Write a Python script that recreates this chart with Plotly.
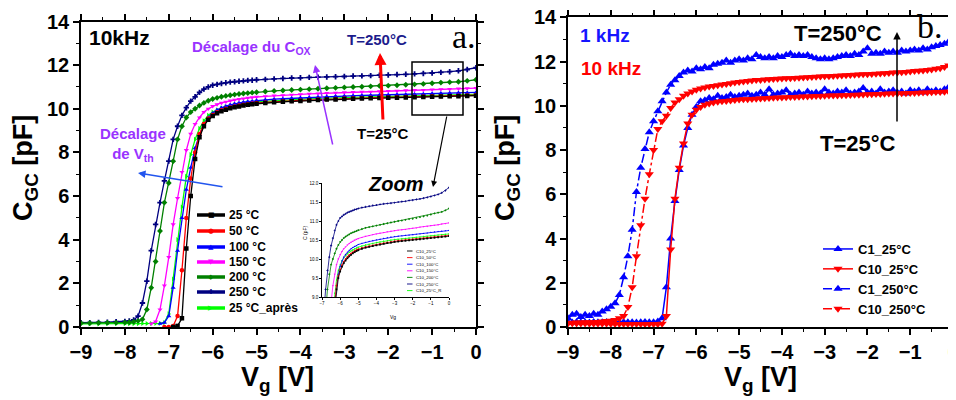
import plotly.graph_objects as go

# ---------------- data : panel a (10 kHz, several temperatures) ----------------
VG_A = [-9.0, -8.8, -8.6, -8.4, -8.2, -8.0,
        -7.9, -7.8, -7.7, -7.6, -7.5, -7.4, -7.3, -7.2, -7.1, -7.0,
        -6.9, -6.8, -6.7, -6.6, -6.5, -6.4, -6.3, -6.2, -6.1, -6.0,
        -5.9, -5.8, -5.7, -5.6, -5.5, -5.4, -5.3, -5.2, -5.1, -5.0,
        -4.8, -4.6, -4.4, -4.2, -4.0, -3.8, -3.6, -3.4, -3.2, -3.0,
        -2.8, -2.6, -2.4, -2.2, -2.0, -1.8, -1.6, -1.4, -1.2, -1.0,
        -0.8, -0.6, -0.4, -0.2, 0.0]

C_25 = [None] * 16 + [
    0.0, 0.05, 0.4, 3.6, 6.0, 7.7, 8.7, 9.2, 9.5, 9.67,
    9.8, 9.89, 9.96, 10.02, 10.07, 10.11, 10.15, 10.18, 10.21, 10.23,
    10.27, 10.3, 10.32, 10.34, 10.36, 10.38, 10.4, 10.42, 10.43, 10.45,
    10.46, 10.47, 10.48, 10.49, 10.5, 10.51, 10.52, 10.53, 10.54, 10.55,
    10.56, 10.57, 10.58, 10.59, 10.6]

C_50 = [None] * 14 + [
    0.0, 0.0,
    0.05, 0.5, 2.6, 5.0, 6.8, 8.0, 8.85, 9.3, 9.55, 9.72,
    9.84, 9.93, 10.0, 10.06, 10.11, 10.15, 10.18, 10.21, 10.24, 10.26,
    10.29, 10.32, 10.34, 10.36, 10.38, 10.4, 10.42, 10.44, 10.45, 10.47,
    10.48, 10.49, 10.5, 10.51, 10.52, 10.53, 10.54, 10.55, 10.56, 10.57,
    10.58, 10.59, 10.6, 10.61, 10.62]

C_100 = [None] * 13 + [
    0.15, 0.2, 0.5,
    1.8, 3.5, 5.0, 6.3, 7.3, 8.2, 8.8, 9.3, 9.6, 9.8,
    9.95, 10.05, 10.12, 10.18, 10.23, 10.27, 10.3, 10.33, 10.35, 10.38,
    10.41, 10.44, 10.46, 10.48, 10.5, 10.52, 10.54, 10.56, 10.58, 10.59,
    10.6, 10.61, 10.62, 10.63, 10.64, 10.65, 10.66, 10.67, 10.68, 10.7,
    10.71, 10.72, 10.73, 10.74, 10.75]

C_150 = [None] * 11 + [
    0.15, 0.25, 0.8, 1.9, 3.2,
    4.7, 5.9, 7.1, 8.1, 8.85, 9.3, 9.6, 9.85, 10.0, 10.12,
    10.2, 10.27, 10.32, 10.37, 10.41, 10.44, 10.47, 10.5, 10.52, 10.54,
    10.57, 10.6, 10.62, 10.64, 10.66, 10.68, 10.7, 10.72, 10.73, 10.75,
    10.76, 10.77, 10.78, 10.8, 10.81, 10.82, 10.84, 10.85, 10.86, 10.88,
    10.89, 10.9, 10.92, 10.93, 10.95]

C_200 = [
    0.18, 0.18, 0.19, 0.2, 0.2, 0.21,
    0.22, 0.24, 0.28, 0.35, 0.8, 1.8, 3.0, 4.4, 5.7, 6.6,
    7.6, 8.6, 9.2, 9.6, 9.85, 10.0, 10.15, 10.27, 10.37, 10.45,
    10.5, 10.55, 10.59, 10.62, 10.65, 10.68, 10.7, 10.72, 10.74, 10.76,
    10.79, 10.82, 10.84, 10.86, 10.88, 10.9, 10.92, 10.94, 10.96, 10.98,
    11.0, 11.01, 11.03, 11.05, 11.06, 11.08, 11.1, 11.12, 11.14, 11.17,
    11.2, 11.22, 11.24, 11.28, 11.33]

C_250 = [
    0.2, 0.2, 0.21, 0.22, 0.24, 0.26,
    0.28, 0.32, 0.5, 1.1, 2.1, 3.5, 4.7, 5.7, 6.7, 7.6,
    8.6, 9.2, 9.7, 10.05, 10.35, 10.55, 10.75, 10.9, 11.0, 11.08,
    11.12, 11.16, 11.19, 11.22, 11.24, 11.26, 11.28, 11.3, 11.31, 11.33,
    11.35, 11.37, 11.39, 11.41, 11.42, 11.44, 11.45, 11.46, 11.47, 11.48,
    11.5, 11.51, 11.52, 11.54, 11.55, 11.57, 11.58, 11.6, 11.62, 11.64,
    11.67, 11.7, 11.74, 11.8, 11.88]

C_25R = [
    0.14, 0.14, 0.14, 0.15, 0.15, 0.15,
    0.15, 0.15, 0.15, 0.16, 0.16, 0.16, 0.17, 0.17, 0.2, 0.6,
    2.2, 4.0, 5.5, 6.9, 7.9, 8.6, 9.1, 9.45, 9.7, 9.85,
    9.95, 10.03, 10.09, 10.14, 10.18, 10.21, 10.24, 10.27, 10.29, 10.31,
    10.34, 10.37, 10.39, 10.41, 10.43, 10.45, 10.47, 10.48, 10.5, 10.51,
    10.52, 10.53, 10.54, 10.55, 10.56, 10.57, 10.58, 10.59, 10.6, 10.61,
    10.62, 10.63, 10.64, 10.65, 10.66]

NAMES_A = ["25 °C", "50 °C", "100 °C", "150 °C", "200 °C", "250 °C", "25 °C_après"]
NAMES_INSET = ["C10_25°C", "C10_50°C", "C10_100°C", "C10_150°C", "C10_200°C",
               "C10_250°C", "C10_25°C_R"]

# ---------------- data : panel b (1 kHz / 10 kHz at 25 and 250 °C) ----------------
VG_B = [-9.0, -8.9, -8.8, -8.7, -8.6, -8.5, -8.4, -8.3, -8.2, -8.1,
        -8.0, -7.9, -7.8, -7.7, -7.6, -7.5, -7.4, -7.3, -7.2, -7.1,
        -7.0, -6.9, -6.8, -6.7, -6.6, -6.5, -6.4, -6.3, -6.2, -6.1,
        -6.0, -5.9, -5.8, -5.7, -5.6, -5.5, -5.4, -5.3, -5.2, -5.1,
        -5.0, -4.9, -4.8, -4.7, -4.6, -4.5, -4.4, -4.3, -4.2, -4.1,
        -4.0, -3.9, -3.8, -3.7, -3.6, -3.5, -3.4, -3.3, -3.2, -3.1,
        -3.0, -2.9, -2.8, -2.7, -2.6, -2.5, -2.4, -2.3, -2.2, -2.1,
        -2.0, -1.9, -1.8, -1.7, -1.6, -1.5, -1.4, -1.3, -1.2, -1.1,
        -1.0, -0.9, -0.8, -0.7, -0.6, -0.5, -0.4, -0.3, -0.2, -0.1, 0.0]

C1_25 = [
    0.22, 0.2, 0.23, 0.21, 0.22, 0.2, 0.23, 0.22, 0.21, 0.23,
    0.22, 0.2, 0.22, 0.23, 0.21, 0.22, 0.2, 0.22, 0.23, 0.21,
    0.22, 0.25, 0.4, 1.8, 4.0, 5.7, 7.1, 8.2, 9.0, 9.6,
    9.95, 10.2, 10.25, 10.35, 10.3, 10.45, 10.35, 10.4, 10.5, 10.4,
    10.45, 10.5, 10.55, 10.45, 10.5, 10.6, 10.5, 10.75, 10.5, 10.55,
    10.6, 10.7, 10.5, 10.55, 10.6, 10.5, 10.65, 10.55, 10.6, 10.55,
    10.75, 10.6, 10.55, 10.65, 10.6, 10.7, 10.55, 10.6, 10.65, 10.8,
    10.6, 10.65, 10.55, 10.75, 10.6, 10.65, 10.7, 10.6, 10.65, 10.55,
    10.7, 10.65, 10.7, 10.6, 10.75, 10.65, 10.7, 10.65, 10.75, 10.85, 10.8]

C10_25 = [
    0.17, 0.17, 0.16, 0.16, 0.16, 0.15, 0.15, 0.15, 0.15, 0.15,
    0.14, 0.14, 0.14, 0.14, 0.14, 0.14, 0.14, 0.13, 0.13, 0.13,
    0.13, 0.13, 0.15, 0.5, 3.5, 5.8, 7.2, 8.3, 9.2, 9.6,
    9.82, 9.95, 10.05, 10.1, 10.15, 10.18, 10.2, 10.22, 10.24, 10.26,
    10.28, 10.29, 10.3, 10.31, 10.32, 10.33, 10.34, 10.35, 10.36, 10.37,
    10.38, 10.39, 10.4, 10.4, 10.41, 10.42, 10.42, 10.43, 10.44, 10.44,
    10.45, 10.46, 10.46, 10.47, 10.48, 10.48, 10.49, 10.5, 10.5, 10.51,
    10.52, 10.52, 10.53, 10.53, 10.54, 10.55, 10.55, 10.56, 10.57, 10.57,
    10.58, 10.58, 10.59, 10.6, 10.6, 10.61, 10.62, 10.62, 10.63, 10.64, 10.65]

C1_250 = [
    0.4, 0.55, 0.6, 0.45, 0.55, 0.5, 0.6, 0.55, 0.7, 0.8,
    0.92, 1.07, 1.45, 2.25, 3.2, 4.4, 6.1, 7.2, 8.05, 8.8,
    9.3, 9.75, 10.2, 10.6, 10.95, 11.15, 11.35, 11.5, 11.6, 11.55,
    11.7, 11.65, 11.75, 11.7, 11.85, 11.9, 11.95, 12.05, 11.95, 12.05,
    12.1, 12.05, 12.15, 12.1, 12.3, 12.2, 12.15, 12.2, 12.15, 12.25,
    12.2, 12.3, 12.35, 12.25, 12.3, 12.25, 12.3, 12.2, 12.15, 12.1,
    12.15, 12.1, 12.15, 12.2, 12.25, 12.3, 12.25, 12.35, 12.3, 12.45,
    12.6, 12.35, 12.4, 12.35, 12.45, 12.4, 12.45, 12.4, 12.5, 12.45,
    12.5, 12.55, 12.5, 12.6, 12.55, 12.65, 12.7, 12.75, 12.8, 12.9, 13.0]

C10_250 = [
    0.18, 0.19, 0.2, 0.2, 0.21, 0.22, 0.22, 0.23, 0.25, 0.27,
    0.28, 0.32, 0.4, 0.5, 0.9, 1.8, 3.2, 4.6, 5.8, 6.9,
    8.0, 8.95, 9.3, 9.55, 9.9, 10.15, 10.3, 10.45, 10.55, 10.65,
    10.72, 10.78, 10.83, 10.87, 10.9, 10.93, 10.96, 10.99, 11.02, 11.05,
    11.08, 11.1, 11.12, 11.14, 11.16, 11.17, 11.19, 11.2, 11.21, 11.22,
    11.23, 11.24, 11.25, 11.26, 11.27, 11.28, 11.29, 11.3, 11.31, 11.32,
    11.33, 11.34, 11.35, 11.36, 11.37, 11.38, 11.39, 11.4, 11.41, 11.42,
    11.43, 11.44, 11.45, 11.46, 11.47, 11.48, 11.5, 11.51, 11.52, 11.53,
    11.55, 11.57, 11.58, 11.6, 11.62, 11.64, 11.67, 11.7, 11.75, 11.82, 11.92]

NAMES_B = ["C1_25°C", "C10_25°C", "C1_250°C", "C10_250°C"]

# ---------------- styles ----------------
W, H = 956, 400
OFF = 8  # the page body has a default 8 px margin
FONT = "Liberation Sans, Arial, sans-serif"
SERIF = "Liberation Serif, Times New Roman, serif"
COLORS_A = ["#000000", "#FF0000", "#0000FF", "#FF00FF", "#008000", "#000080", "#00FF00"]
SYMBOLS_A = ["square", "circle", "triangle-up", "triangle-down", "diamond", "cross", "triangle-right"]
GLYPHS_A = ["■", "●", "▲", "▼", "◆", "✚", "▶"]
PURPLE = "#9933FF"


def px(x):
    return (x - OFF) / W


def py(y):
    return 1 - (y - OFF) / H


fig = go.Figure()

series_a = [C_25, C_50, C_100, C_150, C_200, C_250, C_25R]
order_a = [6, 5, 4, 3, 2, 1, 0]
for k in order_a:
    fig.add_trace(go.Scatter(
        x=VG_A, y=series_a[k], name=NAMES_A[k], mode="lines+markers",
        line=dict(color=COLORS_A[k], width=1.3),
        marker=dict(color=COLORS_A[k], symbol=SYMBOLS_A[k], size=4.5),
        xaxis="x", yaxis="y", showlegend=False))

for k in order_a:
    fig.add_trace(go.Scatter(
        x=VG_A, y=series_a[k], name=NAMES_INSET[k], mode="lines+markers",
        line=dict(color=COLORS_A[k], width=0.8),
        marker=dict(color=COLORS_A[k], symbol=SYMBOLS_A[k], size=1.8),
        xaxis="x3", yaxis="y3", showlegend=False))

series_b = [C1_25, C10_25, C1_250, C10_250]
colors_b = ["#0000FF", "#FF0000", "#0000FF", "#FF0000"]
symbols_b = ["triangle-up", "triangle-down", "triangle-up", "triangle-down"]
dashes_b = ["solid", "solid", "dashdot", "dashdot"]
for k in range(4):
    fig.add_trace(go.Scatter(
        x=VG_B, y=series_b[k], name=NAMES_B[k], mode="lines+markers",
        line=dict(color=colors_b[k], width=1.5, dash=dashes_b[k]),
        marker=dict(color=colors_b[k], symbol=symbols_b[k], size=8),
        xaxis="x2", yaxis="y2", showlegend=True))

tickfont = dict(family=FONT, size=20, color="black", weight="bold")
common = dict(showline=True, linecolor="black", linewidth=1.5, mirror="allticks",
              ticks="outside", ticklen=6, tickwidth=1.5, tickcolor="black",
              showgrid=False, zeroline=False, tickfont=tickfont, automargin=False,
              ticklabeloverflow="allow")
xcommon = dict(common, range=[-9, 0], dtick=1, tick0=0,
               minor=dict(dtick=0.5, ticks="outside", ticklen=3, tickwidth=1,
                          tickcolor="black", showgrid=False))
ycommon = dict(common, range=[0, 14], dtick=2, tick0=0,
               minor=dict(dtick=1, ticks="outside", ticklen=3, tickwidth=1,
                          tickcolor="black", showgrid=False))
inset_common = dict(showline=True, linecolor="black", linewidth=0.7, mirror=False,
                    ticks="outside", ticklen=2, tickwidth=0.6, tickcolor="black",
                    showgrid=False, zeroline=False, automargin=False,
                    tickfont=dict(family=FONT, size=4.5, color="black"))

annotations = []
shapes = []


def ann(text, x, y, size, color="black", bold=True, family=FONT, xanchor="center",
        yanchor="middle", italic=False, angle=0):
    annotations.append(dict(
        text=text, x=px(x), y=py(y), xref="paper", yref="paper",
        xanchor=xanchor, yanchor=yanchor, showarrow=False, textangle=angle,
        font=dict(family=family, size=size, color=color,
                  weight="bold" if bold else "normal",
                  style="italic" if italic else "normal")))


def arrow(head, tail, color, width, headsize=1.0):
    annotations.append(dict(
        text="", x=px(head[0]), y=py(head[1]), xref="paper", yref="paper",
        ax=tail[0] - head[0], ay=tail[1] - head[1], showarrow=True,
        arrowhead=2, arrowsize=headsize, arrowwidth=width, arrowcolor=color,
        standoff=0, startstandoff=0))


# axis titles
ann("C<sub>GC</sub> [pF]", 25, 168, 27, angle=-90)
ann("C<sub>GC</sub> [pF]", 507, 168, 27, angle=-90)
ann("V<sub>g</sub> [V]", 277, 379, 27)
ann("V<sub>g</sub> [V]", 760, 379, 27)

# panel a texts
ann("10kHz", 119, 37, 21)
ann("Décalage du C<sub>OX</sub>", 190, 47, 15, color=PURPLE, xanchor="left")
ann("T=250°C", 377, 40, 15, color="#1C1C8C")
ann("a.", 464, 36, 34, bold=False, family=SERIF)
ann("T=25°C", 383, 133, 15)
ann("Décalage<br>de V<sub>th</sub>", 133, 144, 15, color=PURPLE)
ann("Zoom", 395, 184, 20, italic=True)

shapes.append(dict(type="rect", xref="paper", yref="paper",
                   x0=px(412), x1=px(463), y0=py(115), y1=py(62),
                   line=dict(color="black", width=1.5)))
arrow((433, 187), (447, 115), "black", 1.2)
arrow((380, 53), (383, 121), "#FF0000", 3.0, 0.8)
arrow((315, 65), (333, 146), PURPLE, 1.5)
arrow((138, 173), (224, 187), "#2255EE", 1.5)

# panel a legend (drawn as keys + text)
LEG_Y = [215, 231, 247, 262, 277, 292, 308]
for k in range(7):
    yy = LEG_Y[k]
    shapes.append(dict(type="line", xref="paper", yref="paper",
                       x0=px(197), x1=px(225), y0=py(yy), y1=py(yy),
                       line=dict(color=COLORS_A[k], width=3.5)))
    ann(GLYPHS_A[k], 211, yy, 7, color=COLORS_A[k], bold=False,
        family="DejaVu Sans")
    ann(NAMES_A[k], 227, yy, 12, xanchor="left")

# inset legend + titles
INS_Y = [251, 257.6, 264.2, 270.8, 277.4, 284, 290.6]
for k in range(7):
    yy = INS_Y[k]
    shapes.append(dict(type="line", xref="paper", yref="paper",
                       x0=px(407), x1=px(412.5), y0=py(yy), y1=py(yy),
                       line=dict(color=COLORS_A[k], width=0.9)))
    ann(NAMES_INSET[k], 413.5, yy, 4.3, bold=False, xanchor="left")
ann("Vg", 393, 317, 5, bold=False)
ann("C (pF)", 305, 233, 5, bold=False, angle=-90)

# panel b texts
ann("1 kHz", 605, 35, 19, color="#1515FF")
ann("10 kHz", 611, 69, 19, color="#FF0000")
ann("T=250°C", 838, 33, 22)
ann("b.", 930, 26, 34, bold=False, family=SERIF)
ann("T=25°C", 858, 143, 22)
arrow((897, 32), (897, 123), "black", 1.5)

fig.update_layout(
    width=W, height=H, margin=dict(l=0, r=0, t=0, b=0, autoexpand=False),
    paper_bgcolor="white", plot_bgcolor="white",
    font=dict(family=FONT, color="black"),
    xaxis=dict(xcommon, domain=[px(81), px(476)], anchor="y"),
    yaxis=dict(ycommon, domain=[py(327), py(21.5)], anchor="x"),
    xaxis2=dict(xcommon, domain=[px(568), px(953)], anchor="y2"),
    yaxis2=dict(ycommon, domain=[py(327), py(17.3)], anchor="x2"),
    xaxis3=dict(inset_common, domain=[px(322), px(449)], anchor="y3",
                range=[-7, 0], dtick=1),
    yaxis3=dict(inset_common, domain=[py(297), py(183)], anchor="x3",
                range=[9, 12], dtick=0.5, tickformat=".1f"),
    showlegend=True,
    legend=dict(x=px(818), y=py(234), xanchor="left", yanchor="top",
                bgcolor="rgba(0,0,0,0)", borderwidth=0, tracegroupgap=0,
                font=dict(family=FONT, size=13, color="black", weight="bold")),
    annotations=annotations, shapes=shapes,
)

fig.write_html("out.html")
